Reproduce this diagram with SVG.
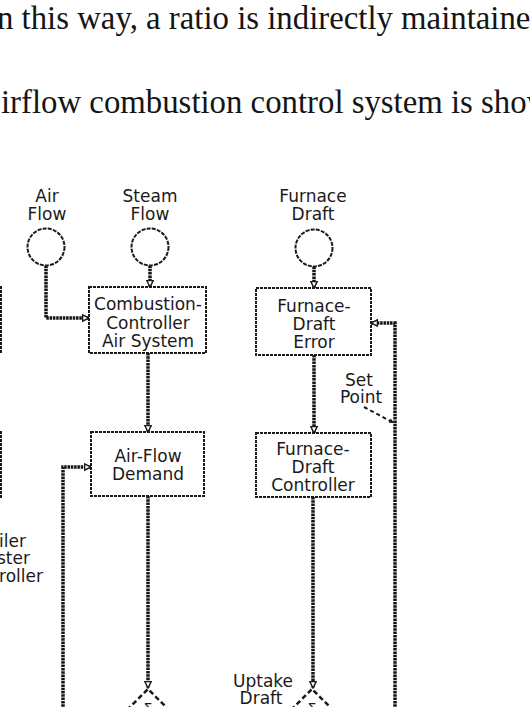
<svg xmlns="http://www.w3.org/2000/svg" width="530" height="707" viewBox="0 0 530 707">
<defs>
<style>
.body{font-family:"Liberation Serif","Times New Roman",serif;font-size:32.8px;fill:#151515}
.lbl{font-family:"DejaVu Sans","Liberation Sans",sans-serif;font-size:17px;fill:#1a1a1a;text-anchor:middle}
.lbl-end{font-family:"DejaVu Sans","Liberation Sans",sans-serif;font-size:17px;fill:#1a1a1a;text-anchor:end}
.box{fill:#fff;stroke:#1a1a1a;stroke-width:2;stroke-dasharray:3 1}
.circ{fill:#fff;stroke:#1a1a1a;stroke-width:2;stroke-dasharray:4 1.2}
.wire{fill:none;stroke:#141414;stroke-width:3.5;stroke-dasharray:2.5 0.8}
.leader{fill:none;stroke:#1a1a1a;stroke-width:2;stroke-dasharray:4 3}
.tri{fill:none;stroke:#1a1a1a;stroke-width:2.5;stroke-dasharray:5 3}
</style>
<marker id="arr" viewBox="0 0 10 10" refX="9" refY="5" markerWidth="8" markerHeight="8" markerUnits="userSpaceOnUse" orient="auto">
<path d="M1,1 L9,5 L1,9 Z" fill="#fff" stroke="#1a1a1a" stroke-width="1.8"/>
</marker>
<marker id="arrs" viewBox="0 0 10 10" refX="9" refY="5" markerWidth="6" markerHeight="6" markerUnits="userSpaceOnUse" orient="auto">
<path d="M1,1 L9,5 L1,9 Z" fill="#1a1a1a"/>
</marker>
</defs>
<rect x="0" y="0" width="530" height="707" fill="#fff"/>

<g id="prose">
<text class="body" x="-3" y="29">n this way, a ratio is indirectly maintained</text>
<text class="body" x="1" y="113">irflow combustion control system is show</text>
</g>

<g id="connectors">
<path class="wire" d="M46,265.5 V318 H89" marker-end="url(#arr)"/>
<path class="wire" d="M150,265.5 V287" marker-end="url(#arr)"/>
<path class="wire" d="M314,266.5 V288" marker-end="url(#arr)"/>
<path class="wire" d="M148,353 V432" marker-end="url(#arr)"/>
<path class="wire" d="M148,496 V688" marker-end="url(#arr)"/>
<path class="wire" d="M314,355 V433" marker-end="url(#arr)"/>
<path class="wire" d="M313,497 V688" marker-end="url(#arr)"/>
<path class="wire" d="M63,710 V467 H91" marker-end="url(#arr)"/>
<path class="wire" d="M395,710 V323 H371" marker-end="url(#arr)"/>
<path class="leader" d="M364,407 L394,423" marker-end="url(#arrs)"/>
</g>

<g id="left-box-1"><rect class="box" x="-120" y="287" width="121" height="65"/></g>
<g id="left-box-2"><rect class="box" x="-120" y="432" width="121" height="65"/></g>
<g id="boiler-master-label">
<text class="lbl-end" x="26" y="547">iler</text>
<text class="lbl-end" x="30" y="564">ster</text>
<text class="lbl-end" x="43" y="582">roller</text>
</g>

<g id="air-flow">
<text class="lbl" x="47" y="202">Air</text>
<text class="lbl" x="47" y="220">Flow</text>
<circle class="circ" cx="46" cy="247" r="18.5"/>
</g>
<g id="steam-flow">
<text class="lbl" x="150" y="202">Steam</text>
<text class="lbl" x="150" y="220">Flow</text>
<circle class="circ" cx="150" cy="247" r="18.5"/>
</g>
<g id="furnace-draft">
<text class="lbl" x="313" y="202">Furnace</text>
<text class="lbl" x="313" y="220">Draft</text>
<circle class="circ" cx="314" cy="248" r="18.5"/>
</g>

<g id="combustion-controller">
<rect class="box" x="89" y="287" width="117" height="66"/>
<text class="lbl" x="148" y="310">Combustion-</text>
<text class="lbl" x="148" y="329">Controller</text>
<text class="lbl" x="148" y="347">Air System</text>
</g>
<g id="air-flow-demand">
<rect class="box" x="91" y="432" width="113" height="64"/>
<text class="lbl" x="148" y="462">Air-Flow</text>
<text class="lbl" x="148" y="480">Demand</text>
</g>
<g id="furnace-draft-error">
<rect class="box" x="256" y="288" width="115" height="67"/>
<text class="lbl" x="314" y="312">Furnace-</text>
<text class="lbl" x="314" y="330">Draft</text>
<text class="lbl" x="314" y="348">Error</text>
</g>
<g id="furnace-draft-controller">
<rect class="box" x="256" y="433" width="115" height="64"/>
<text class="lbl" x="313" y="455">Furnace-</text>
<text class="lbl" x="313" y="473">Draft</text>
<text class="lbl" x="313" y="491">Controller</text>
</g>
<g id="set-point-label">
<text class="lbl" x="359" y="386">Set</text>
<text class="lbl" x="361" y="403">Point</text>
</g>
<g id="uptake-draft-label">
<text class="lbl" x="263" y="687">Uptake</text>
<text class="lbl" x="261" y="704">Draft</text>
</g>
<g id="multiplier-left">
<path class="tri" d="M127,710 L148,689 L169,710"/>
<text class="lbl" x="148" y="713" style="font-size:14px">Σ</text>
</g>
<g id="multiplier-right">
<path class="tri" d="M291,710 L312,689 L333,710"/>
<text class="lbl" x="312" y="713" style="font-size:14px">Σ</text>
</g>
</svg>
